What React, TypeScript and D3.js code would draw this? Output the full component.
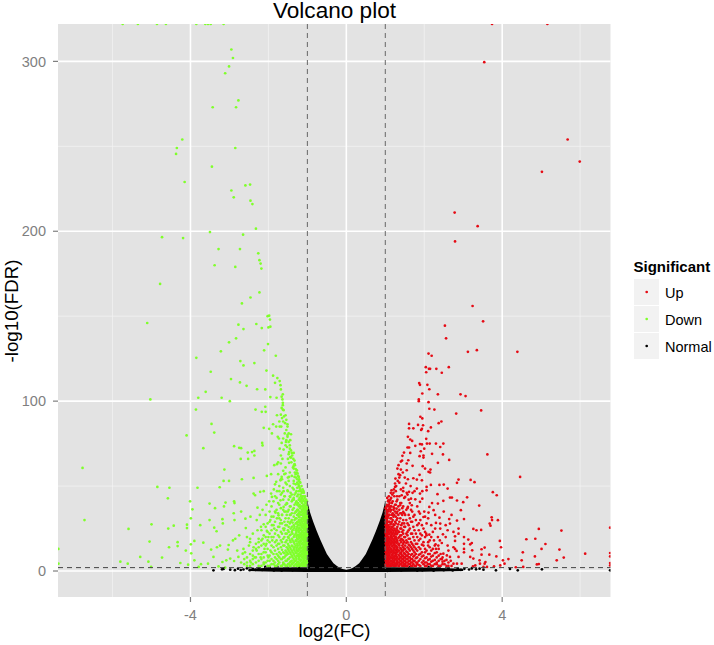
import React from "react";
import * as d3 from "d3";

const W = 714, H = 645;
const M = { l: 58, r: 610.5, t: 24, b: 597 };
const xDomain: [number, number] = [-7.4, 6.78];
const yDomain: [number, number] = [-15.3, 322];
const xMajor = [-4, 0, 4];
const xMinor = [-6, -2, 2, 6];
const yMajor = [0, 100, 200, 300];
const yMinor = [50, 150, 250];
const fcCut = [-1, 1];
const fdrCut = 2;

// Normal genes: solid volcano funnel, read as its upper edge
const funnelX = [-1, -0.93, -0.85, -0.76, -0.67, -0.58, -0.5, -0.41, -0.33, -0.24, -0.16, -0.08, 0, 0.08, 0.16, 0.24, 0.33, 0.41, 0.5, 0.58, 0.67, 0.76, 0.85, 0.93, 1];
const funnelTop = [41, 34.5, 29, 23.5, 18.6, 14, 10, 7, 4.6, 3, 1.8, 1, 0.6, 1, 1.8, 3, 4.6, 7, 10, 14, 18.6, 23.5, 29, 34.5, 41];
const bandX = [-2.5, -1.8, -1, 0, 1, 2, 3.0];
const bandTop = [1.3, 2, 2.2, 0.8, 2.2, 2, 1.3];
const bandBottom = [0, -0.5, -0.6, -0.6, -0.6, -0.5, 0];
const normalX = [-3.41, -3.19, -3.15, -2.98, -2.86, -2.78, -2.71, -2.64, -2.55, -2.48, -2.4, -2.33, -2.25, -2.16, -2.08, -1.97, -1.86, -1.77, -1.66, -1.52, -1.38, -1.21, -1.08, 1.06, 1.22, 1.41, 1.63, 1.82, 1.95, 2.11, 2.24, 2.37, 2.5, 2.62, 2.73, 2.86, 2.94, 3.03, 3.15, 3.22, 3.33, 3.42, 3.52, 3.84, 4.2, 4.4, 5.02, 6.77];
const normalY = [0.4, 1.0, 1.2, 0.8, 0.5, 1.4, 0.6, 0.9, 1.6, 0.5, 1.3, 0.7, 1.7, 0.6, 2.4, 2.2, 0.3, 2.4, 0.2, 2.1, 0.4, 2.4, 0.2, 0.1, 2.4, 0.3, 2.2, 0.2, 0.4, 2.3, 0.2, 2.3, 0.5, 1.6, 0.3, 1.5, 0.7, 1.3, 0.9, 1.5, 1.0, 1.4, 0.8, 0.4, 1.2, 0.4, 1.0, 0.4];

// Down-regulated genes
const downSparse: [number, number][] = [
[-5.74,322],[-5.35,322],[-4.86,322],[-4.63,322],[-3.85,322],[-3.62,322],[-3.55,322],[-3.48,322],[-3.15,322],
[-2.95,307],[-2.91,302],[-3.01,297],[-3.11,293],[-2.77,277],[-2.83,273],[-3.43,273],[-4.21,254],[-4.35,249],[-4.37,245.5],[-2.85,249],[-3.45,238],[-4.15,229],[-2.59,227],[-2.47,227.5],[-2.95,224],[-2.89,220],[-2.46,218],[-2.41,216],[-2.32,201.5],[-3.5,199.5],[-2.65,198],[-4.73,196.5],[-4.19,196],[-3.28,189.5],[-2.73,189.5],[-2.26,187],[-2.23,183],[-2.2,181],[-2.18,178],[-3.38,180],[-2.85,179],[-4.78,169],[-2.23,164],[-2.46,161],[-2.68,157.5],
[-5.11,146],[-2.02,150],[-1.98,150.3],[-1.96,148],[-2.77,145],[-2.31,145.4],[-2.64,142.4],[-2.17,143],[-2,143.4],[-1.95,143.8],[-2.83,137],[-3.01,134.6],[-2.01,133.6],[-2.11,129.9],[-3.22,129.3],[-1.81,126.7],[-3.85,125.5],[-2.72,123.6],[-2.64,121],[-2.36,122.4],[-2.05,118],[-3.48,117.3],[-1.88,115],[-1.77,113.6],[-2.96,113],[-2.73,111],[-1.83,110.8],[-1.71,111.8],[-1.69,109.4],[-2.56,109],[-2.29,107],[-2.08,106.9],[-3.61,105.5],[-1.68,106.9]];
const downMid: [number, number][] = [
[-1.63,104],[-1.66,102.6],[-1.95,102.4],[-1.79,102],[-3.8,102],[-3.2,102],[-1.64,101],[-1.63,99],[-5.03,101],[-2.99,100],[-1.63,97.6],[-2.08,96.7],[-2.33,95],[-3.86,95],[-1.66,96],[-1.61,94.7],[-2.17,93.7],[-2.07,93.7],[-1.78,91.7],[-1.56,91.7],[-1.68,92],[-1.54,89],[-3.46,86.6],[-1.88,86.4],[-1.51,86.4],[-1.51,85],[-2.12,84.3],[-1.98,83.7],[-1.8,85],[-1.71,85],[-3.39,81.5],[-1.91,81],[-1.48,81],[-1.42,80.5],[-4.1,79.8],[-1.51,79],[-1.76,79],[-1.73,78],[-1.54,77],[-1.44,77],[-2.16,75.4],[-2.15,73.9],[-1.66,75.4],[-2.88,73.5],[-2.75,72.5],[-2.7,72.3],[-3.67,72.3],[-1.71,72],[-1.61,71.5],[-2.36,70.7],[-2.53,69.7],[-2.42,70],[-1.4,69.5],[-1.35,69.5],[-1.48,68.8],[-1.42,66.8],[-2.36,68],[-2.71,66],[-2.52,66],[-1.64,66],[-1.33,65],[-1.78,62.9],[-1.85,62.3],[-1.68,63.3],[-1.47,63.7],[-1.32,62.3],[-3.13,59.7],[-2.04,56],[-1.93,57],[-1.35,60.3],[-1.27,59.3],[-1.25,57.4],[-1.66,55.4],[-1.56,57.4],[-1.47,55.4],[-3.15,53],[-3.01,53],[-2.68,54],[-2.38,54.8],[-1.22,55.4],[-1.8,52.5],[-1.69,53.4],[-1.33,55.4],[-1.2,52.5],[-1.35,51.5],
[-6.77,60.7],[-6.72,30],[-4.85,49.5],[-4.54,49],[-3.82,49],[-3.25,49.3],[-4.58,42.8],[-4.01,41],[-3.95,36.3],[-3.99,31],[-3.51,39.7],[-3.37,37],[-3.14,38],[-3.1,40.3],[-2.88,41],[-2.87,40],[-2.89,34],[-2.7,35],[-3.18,30.5],[-3.51,30],[-2.87,30],[-2.59,30.8],[-2.46,32],[-3.17,28],[-5,27.5],[-4.43,26.7],[-4.57,25],[-5.59,24.8],[-4.09,27.3],[-4.09,25.3],[-3.75,27],[-3.39,25.5],[-3.33,23.4],[-2.58,25.3],[-5.05,17.3],[-4.33,17],[-4.33,14.7],[-4.55,14],[-3.9,17.7],[-3.99,15.7],[-3.67,16.7],[-4.12,12],[-3.98,10.4],[-5.29,8.3],[-4.73,7.9],[-5.8,5.5],[-5.08,5.5],[-5.61,4.3],[-4.26,4.7],[-5.01,2.4],[-7.39,13],[-7.39,4.3],[-4.06,3.7],[-3.9,6.3],[-3.79,2.4],[-3.73,4],[-3.55,4.3],[-3.41,8.3],[-3.47,12.6],[-3.32,14],[-3.24,15],[-3.02,15.3],[-2.91,18],[-2.85,19],[-3.04,12.6],[-3.18,5.3],[-3.28,2.7],[-3.11,2],[-3.08,6.3],[-2.98,7.3],[-2.88,5.9],[-2.77,8.3],[-2.66,10.2],[-2.64,13],[-2.47,19],[-2.38,14],[-2.28,24],[-2.19,26],[-2.12,27.5],[-2.04,23.6],[-2,20],[-1.91,27],[-2.38,45.6],[-2.28,37.3],[-2.34,44.6],[-2.21,46.6],[-2.12,47],[-1.93,45.6],[-1.91,43.6],[-1.78,47],[-1.69,41.6],[-1.61,47],[-1.51,47.5],[-1.44,43.6],[-1.35,42],[-1.52,39.7],[-1.82,34.4],[-1.74,32.8],[-1.61,37.7],[-1.95,30]];
const downEdge: [number, number][] = [
[-1.03,42],[-1.06,44],[-1.09,46],[-1.12,48],[-1.15,50],[-1.18,52],[-1.21,54],[-1.24,56],[-1.27,58],[-1.3,60],[-1.33,63],[-1.36,66],[-1.39,68],[-1.42,71],[-1.45,74],[-1.48,76],[-1.51,80],[-1.54,83],[-1.57,87],[-1.6,91],[-1.63,95],[-1.05,40],[-1.1,47],[-1.14,44],[-1.17,47],[-1.2,49],[-1.23,51],[-1.26,52],[-1.29,55],[-1.32,58],[-1.37,61],[-1.41,64],[-1.44,67],[-1.47,70],[-1.52,73],[-1.55,76],[-1.58,81],[-1.65,90],[-1.67,85],[-1.72,88],
[-2.3,30],[-2.22,33],[-2.15,36],[-2.05,39],[-1.98,41],[-1.86,48],[-1.72,50],[-1.58,44],[-2.25,17],[-2.15,19],[-2.05,16],[-1.95,12],[-1.9,18],[-1.85,25],[-1.78,31],[-1.7,28],[-1.65,33],[-1.55,35],[-1.6,24],[-2.5,15],[-2.6,11],[-2.7,5],[-2.45,5],[-2.35,8],[-2.3,12],[-2.2,8],[-2.1,13],[-2,8],[-2.8,12],[-2.55,20],[-2.4,22],[-2.75,21]];
const downColX = [-1.01,-1.04,-1.07,-1.1,-1.14,-1.18,-1.22,-1.26,-1.3,-1.35,-1.4,-1.45,-1.5,-1.56,-1.62,-1.68,-1.75,-1.83,-1.92,-2.02,-2.12,-2.25,-2.4,-2.55];
const downColY = [
[3,5,7,8,10,12,14,15,17,19,21,22,24,26,28,30,31,33,35,37,39,41],
[4,6,9,11,13,16,18,20,23,25,27,29,32,34,36,38,40],
[3,5,8,10,12,14,17,19,21,24,26,28,31,33,35,38,41,43],
[3,6,7,9,11,13,15,18,20,22,25,27,30,32,34,37,39,42,44],
[4,5,8,10,12,16,19,21,23,26,29,31,35,36,40,43,46],
[3,6,9,11,14,15,18,22,24,27,28,33,37,41,45,48],
[4,7,8,10,13,17,20,23,25,30,32,34,38,42,47,50,53],
[3,5,9,12,14,16,19,21,26,29,33,36,39,44,49,54],
[4,6,8,11,15,18,22,24,28,31,35,40,46,51,57],
[3,5,7,10,13,17,20,25,27,32,37,43,48,53,62],
[4,6,9,12,15,19,23,26,30,34,41,45,56],
[3,5,8,11,14,18,21,28,33,38,44,50,58,72],
[4,7,10,13,16,20,24,29,35,47,55,66],
[3,6,9,12,17,22,27,31,39,52,61,74],
[4,5,8,11,15,19,25,36,42,49,59,78,88],
[3,7,10,14,18,23,30,37,45,54,68],
[4,6,9,13,16,21,26,34,40,57,64],
[3,5,8,12,17,22,29,35,44,51],
[4,7,11,15,20,24,32,38],
[3,6,9,13,18,23,28],
[4,5,8,11,16,21],
[3,6,10,14,19],
[4,7,9,12],
[3,5,8]];
const downColX2 = [-1.02,-1.05,-1.085,-1.12,-1.16,-1.2,-1.24,-1.28,-1.33,-1.38,-1.43,-1.48,-1.53,-1.59,-1.65,-1.72,-1.79,-1.87,-1.97,-2.07,-2.18,-2.32,-2.47,-2.62];
const downColY2 = [
[4,6,9,11,13,16,18,20,23,25,27,29,32,34,36,38,40],
[3,5,7.5,10,12,14,15,17,19,21,22,24,26,28,30,31,33,35,37],
[4,6.5,9,11,13,15.5,18,20,22.5,25,27,29.5,32,34,36,39],
[3,5,8,10,12,14,16.5,19,21,23.5,26,28,31,33,35.5,38,41],
[3.5,6.5,9.5,11.5,13.5,17.5,20,22,24.5,27,30,33,34.5,38,42,44],
[4.5,7,8.5,12.5,16,17,19.5,21,25.5,29,31.5,35,39,43],
[3,5.5,9,11.5,15,18.5,21.5,24,27,28.5,33,36,40,45],
[4,7,10.5,13,17.5,20,23,25,28,31,35,41,47],
[3,6,9,12,14,16,21,26,30,34,39,45],
[4.5,8,11,14.5,18,22,24,28.5,36,42,49],
[3,5.5,10,13,17,21.5,25,29,33,38,46],
[4,7,12,15,19.5,23,26,31,36,42,53],
[3,6,9.5,11,14,18,22,27,33,40,51],
[4,8,10.5,15,20,25,29,35,44,57],
[3,7,12.5,17,22,28,33,46,54],
[5,8,11,16,20,26,31,39,47],
[3,7,10,15,18,24,36,43],
[4,6,10,14,20,27,32,41],
[3,6,9,17,22,29,35],
[5,11,15,20,26,33],
[3,7,10,15,18,24],
[5,8,13,16],
[3,6,10,17],
[4,7]];

// Up-regulated genes
const upSparse: [number, number][] = [
[3.74,322],[5.16,322],[3.54,299.5],[5.68,254],[5.99,241],[5.02,235],[2.78,211],[3.37,203],[2.79,194],
[3.24,156],[3.51,147],[2.53,144.4],[2.56,137],[3.12,129],[3.35,130],[4.39,129],[2.11,128],[2.19,126.7],[2.63,120],[2.04,120],[2.12,119],[2.15,119],[2.31,119],[2.05,117],[2.45,116.7],[1.87,110.6],[1.89,109.6],[2.08,109.6],[2.13,107],[1.95,104.5],[2.35,104],[2.93,104],[3.06,103],[1.86,101],[1.86,100],[2.11,99.4],[2.13,95.5],[2.26,95],[3.46,94.5],[2.82,92.7],[1.9,90.8],[1.95,89.8],[2.37,87],[2.44,88],[1.61,86.6],[1.61,84],[1.72,84],[1.84,86],[1.97,85.8],[2.17,84.5],[1.94,83.7],[1.92,83],[2.1,82.3],[1.58,79],[1.64,77.4],[1.69,76.6],[2.05,77.8],[1.89,74.7],[1.94,74.5],[2.07,75],[2.14,75],[2.3,75],[2.49,75],[1.77,73.7],[1.57,72.7],[1.61,72.7],[2.41,73],[2,72],[1.91,70.5],[1.48,69.7],[1.64,69.5],[2.2,69],[2.48,68.6],[3.62,68.6],[1.44,67.8],[1.88,67.6],[1.98,68],[1.98,66.8],[2.64,65.4],[1.43,65],[1.4,64.4],[1.59,65.2],[2.35,63.7],[1.34,62.3],[1.55,63.3],[1.7,61.9],[1.96,61.7],[1.31,60.3],[1.4,59.7],[1.55,59.3],[2.02,60.3],[2.16,59.7],[2.11,58.4],[2.15,58],[1.34,57],[1.38,56.4],[1.88,56.6],[4.46,55.4],[1.26,54.4],[1.72,54.6],[1.81,53.8],[1.94,53.4],[3.19,53.6],[3.29,52.3],[2.88,53.8],[2.84,51.9]];
const upMid: [number, number][] = [
[1.25,51.5],[1.53,51.5],[2.17,50.7],[2.39,50.7],[2.5,50.9],[1.25,49.5],[1.46,49],[2.06,49.5],[2.06,47.5],[1.81,48.5],[2.6,48.5],[1.16,47.5],[1.14,46],[1.21,46],[1.61,46.6],[1.42,44.6],[1.51,43.6],[1.89,45.6],[2.34,45.2],[3.76,46.4],[3.86,44.6],[1.08,41.6],[1.1,41],[2.66,43.2],[2.71,43.2],[3.1,43.4],[2.49,41.3],[2.84,41.5],[3,40.5],[2.35,39.7],[3.41,38.5],[2.94,35.8],[2.13,37.7],[1.89,40.7],[1.95,42.6],[1.66,42.6],[1.77,42.2],[1.58,37.7],[1.68,38.7],[1.38,38.7],[1.21,37.7],[1.29,36.7],[1.46,34.8],[2.24,35.8],[1.89,33.8],[2.11,34.4],[1.98,31.8],[2.39,31.4],[2.64,30.6],[2.84,29.7],[3.02,30.6],[3.73,31.6],[3.74,30],[3.89,29.9],[3.68,27.9],[3.7,26.7],[2.3,28.3],[2.41,27.9],[2.66,27.9],[2.88,25],[2.41,25],[2.28,25],[2.6,24],[3.26,24.8],[3.34,24],[3.46,24.2],[4.94,24.8],[5.52,23.8],[6.77,25.5],[2.75,23],[2.88,22],[2.05,22],[2.13,21.4],[2.48,21.6],[2.79,20.4],[3.02,20],[2.79,17.7],[3.13,18.5],[4.62,18.7],[4.85,19],[3.94,17.7],[5.11,15.9],[3.22,16.5],[3.18,15.7],[3.02,16],[3.02,13],[3.02,11],[3.97,14],[3.55,13.8],[3.47,12.8],[5.01,13],[5.47,12.6],[2.79,13],[2.83,11.8],[3.23,12.2],[2.29,15.7],[2.36,15],[2.3,13],[2.45,16.5],[4.53,11],[6.13,10.2],[6.77,10.6],[6.77,8.6],[3.47,9.6],[3.67,9.6],[3.85,8.6],[4.84,8.6],[5.58,7.9],[5.4,6.3],[4.5,6.3],[4.16,7],[4.02,6.3],[4.06,4.3],[3.57,5.3],[3.42,6.3],[3.43,4.3],[3.55,4.3],[4.89,3.9],[4.94,4.1],[3.95,3.3],[4.35,2.2],[4.54,2.4],[3.79,2.8],[3.52,2.4],[3.61,2.4],[6.77,3.3],[6.77,4.7],[3.18,8.3],[3.26,7.3],[3.31,3.3],[3.25,2.8],[2.96,4.3],[2.84,4.3],[2.88,8.3],[2.75,4.3],[2.58,9.2],[2.49,10.2],[2.66,8.3],
[1.05,43],[1.09,44],[1.13,42],[1.18,45],[1.22,48],[1.28,50],[1.32,53],[1.36,55],[1.45,58],[1.5,55],[1.58,54],[1.65,50],[1.75,47],[1.95,47],[1.3,44],[1.4,48],[1.55,46],[1.7,46],[2.2,40],[2.28,33],[2.5,35],[2.55,27],[2.7,33],[2.75,14],[2.62,12],[2.55,20],[2.4,18],[2.68,6],[2.6,15],[2.45,7],[2.35,20],[2.25,18],[2.18,27],[2.1,31],[2,35]];
const upColX = [1.01,1.04,1.07,1.11,1.15,1.19,1.23,1.27,1.31,1.36,1.41,1.46,1.51,1.57,1.63,1.69,1.75,1.82,1.9,1.98,2.06,2.14,2.22,2.32,2.42,2.52,2.62,2.7];
const upColY = [
[3,4,6,8,9,11,13,14,16,18,20,22,23,25,27,29,31,33,35,37],
[3,5,7,10,12,15,17,19,21,24,26,28,30,34,36,39],
[4,5,6,8,9,11,13,16,18,20,23,25,27,32,35,38,41],
[3,5,7,9,10,12,14,15,17,19,22,24,26,29,33,37,40],
[3,4,6,8,11,13,16,18,20,21,23,28,31,36,38,43],
[4,5,7,9,10,12,15,17,19,22,24,26,30,34,41],
[3,5,6,8,11,13,14,16,18,21,25,27,33,37,44],
[3,4,7,9,10,12,15,19,20,23,28,32,39,47],
[4,6,8,11,13,14,17,18,22,24,26,31,35,42],
[3,5,7,9,12,15,16,20,23,29,36,44,52],
[4,6,8,10,11,13,17,19,21,25,27,34,40],
[3,5,7,9,12,14,16,18,22,24,30,38,47],
[3,4,6,8,10,13,15,20,26,33],
[3,5,7,9,11,14,17,21,23,28,37,45],
[4,6,8,12,15,19,25,31,40],
[3,5,7,10,13,16,22,29,35],
[3,6,9,11,14,18,24,33],
[4,5,8,12,16,20,27,38],
[3,7,10,13,19,22,30],
[4,6,9,15,17,25],
[3,5,8,12,21,28],
[4,7,10,14,18],
[3,6,9,13,23],
[4,5,8,11],
[3,7,10],
[4,6],
[3,5],
[3]];
const upColX2 = [1.025,1.055,1.09,1.13,1.17,1.21,1.25,1.29,1.335,1.385,1.435,1.485,1.54,1.6,1.66,1.72,1.785,1.86,1.94,2.02,2.1,2.18,2.27,2.37,2.47,2.57];
const upColY2 = [
[3.5,5.5,7.5,10,12,15,17,19,21,24,26,28,30,32,34,36,38],
[3,4.5,6,8,9.5,11,13,14,16,18,20,22,23,25,27,29,31,33],
[3,5,7,10,12,15,17,19,21.5,24,26,29,33,36,39],
[4,6,8,11,13,16,18,20,23,25,27.5,31,35,38],
[3.5,5.5,7.5,9.5,12,14.5,17,19.5,22,24.5,26,29,33,40],
[3,6,8,11,13.5,16,18,20.5,23,27.5,32,36],
[4,7,9,10.5,12.5,15,17,19.5,22,24,29,35,39],
[5,6,8,11,13,14,16.5,18,21.5,25,30,34,41],
[3,5,7,9.5,12,15.5,19.5,23,27.5,33,38],
[4,6,8,10.5,13.5,18,21,25,31,34,40],
[3,5,7,9,12,15,18.5,23,28,33,37],
[4,6,8,10.5,13,17,20,26,28,34,43],
[3,5,7,9,11.5,16.5,18,22,30,36],
[4,6,8,10,13,15.5,19,24,27,33,42],
[3,5,7,9.5,14,17,22,29,36],
[4,6,8.5,12,15,20,26,32],
[3,5,7.5,10,13,16,22,30],
[3.5,6,9.5,14,18,24,28,35],
[5,8.5,11,15.5,21,27],
[3,5,7.5,11,13,20,23,32],
[4,6.5,10,15,17],
[3,5.5,8.5,12,20],
[4,6.5,10.5,15],
[3,6,9,13],
[4,5.5,8],
[3,6.5]];

const legendLabels = ["Up", "Down", "Normal"];
const colorUp = "#e60a14", colorDown = "#7fff2a", colorNormal = "#000000";
const legendColors = [colorUp, colorDown, colorNormal];

const fromCols = (xs: number[], ys: number[][]) =>
  xs.flatMap((x, i) => ys[i].map((y) => [x, y] as [number, number]));

export default function App() {
  const x = d3.scaleLinear().domain(xDomain).range([M.l, M.r]);
  const y = d3.scaleLinear().domain(yDomain).range([M.b, M.t]);
  const font = "'Liberation Sans', Arial, sans-serif";
  const funnel = d3.area<number>().x((d) => x(d)).y0(y(0)).y1((_, i) => y(funnelTop[i]));
  const band = d3.area<number>().x((d) => x(d)).y0((_, i) => y(bandBottom[i])).y1((_, i) => y(bandTop[i]));
  const down = [...downSparse, ...downMid, ...downEdge, ...fromCols(downColX, downColY), ...fromCols(downColX2, downColY2)];
  const up = [...upSparse, ...upMid, ...fromCols(upColX, upColY), ...fromCols(upColX2, upColY2)];
  const r = 1.35;
  const dots = (pts: [number, number][], fill: string, key: string) =>
    pts.map((p, i) => <circle key={key + i} cx={x(p[0])} cy={y(p[1])} r={r} fill={fill} />);
  return (
    <svg width={W} height={H} style={{ position: "absolute", left: 0, top: 0, background: "#fff" }} fontFamily={font}>
      <defs>
        <clipPath id="panel"><rect x={M.l} y={M.t} width={M.r - M.l} height={M.b - M.t} /></clipPath>
      </defs>
      <rect x={M.l} y={M.t} width={M.r - M.l} height={M.b - M.t} fill="#e3e3e3" />
      {xMinor.map((v) => <line key={"xm" + v} x1={x(v)} x2={x(v)} y1={M.t} y2={M.b} stroke="#f2f2f2" strokeWidth={0.8} />)}
      {yMinor.map((v) => <line key={"ym" + v} y1={y(v)} y2={y(v)} x1={M.l} x2={M.r} stroke="#f2f2f2" strokeWidth={0.8} />)}
      {xMajor.map((v) => <line key={"xM" + v} x1={x(v)} x2={x(v)} y1={M.t} y2={M.b} stroke="#fff" strokeWidth={1.6} />)}
      {yMajor.map((v) => <line key={"yM" + v} y1={y(v)} y2={y(v)} x1={M.l} x2={M.r} stroke="#fff" strokeWidth={1.6} />)}
      <g clipPath="url(#panel)">
        <path d={funnel(funnelX) ?? ""} fill={colorNormal} />
        <path d={band(bandX) ?? ""} fill={colorNormal} />
        {normalX.map((v, i) => <circle key={"n" + i} cx={x(v)} cy={y(normalY[i])} r={r} fill={colorNormal} />)}
        {dots(down, colorDown, "d")}
        {dots(up, colorUp, "u")}
      </g>
      {fcCut.map((v) => <line key={"v" + v} x1={x(v)} x2={x(v)} y1={M.t} y2={M.b} stroke="#666" strokeWidth={1} strokeDasharray="5 4" />)}
      <line x1={M.l} x2={M.r} y1={y(fdrCut)} y2={y(fdrCut)} stroke="#444" strokeWidth={1} strokeDasharray="5 4" />
      {yMajor.map((v) => (
        <g key={"yt" + v}>
          <line x1={M.l - 5} x2={M.l} y1={y(v)} y2={y(v)} stroke="#7f7f7f" strokeWidth={1.2} />
          <text x={46} y={y(v)} dy="0.36em" textAnchor="end" fontSize={14.5} fill="#7f7f7f">{v}</text>
        </g>
      ))}
      {xMajor.map((v) => (
        <g key={"xt" + v}>
          <line x1={x(v)} x2={x(v)} y1={M.b} y2={M.b + 5} stroke="#7f7f7f" strokeWidth={1.2} />
          <text x={x(v)} y={620} textAnchor="middle" fontSize={14.5} fill="#7f7f7f">{v}</text>
        </g>
      ))}
      <text x={334.5} y={18} textAnchor="middle" fontSize={22.6} fill="#000">Volcano plot</text>
      <text x={334.5} y={637} textAnchor="middle" fontSize={18.5} fill="#000">log2(FC)</text>
      <text transform="translate(18,311) rotate(-90)" textAnchor="middle" fontSize={18.7} fill="#000">-log10(FDR)</text>
      <text x={633.5} y={272} fontSize={15} fontWeight="bold" fill="#000">Significant</text>
      {legendLabels.map((l, i) => (
        <g key={l}>
          <rect x={634} y={279 + i * 27} width={25} height={26} fill="#f2f2f2" />
          <circle cx={646.7} cy={292 + i * 27} r={r} fill={legendColors[i]} />
          <text x={665} y={292.5 + i * 27} dy="0.36em" fontSize={14.5} fill="#000">{l}</text>
        </g>
      ))}
    </svg>
  );
}
